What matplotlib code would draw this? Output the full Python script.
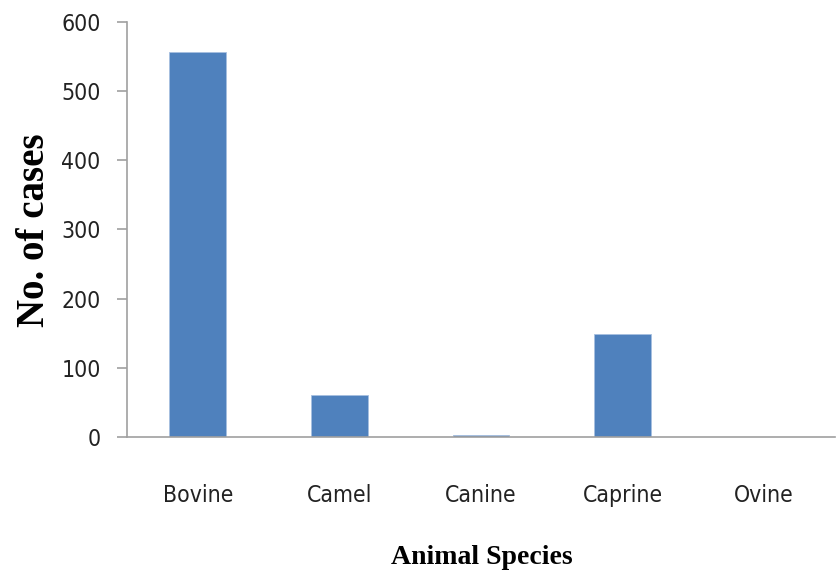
import matplotlib
matplotlib.use("Agg")
import matplotlib.pyplot as plt
from matplotlib import font_manager as fm

categories = ["Bovine", "Camel", "Canine", "Caprine", "Ovine"]
cases = [556, 61, 3, 149, 0]
yticks = [0, 100, 200, 300, 400, 500, 600]

names = {f.name for f in fm.fontManager.ttflist}
tick_family = "Liberation Sans Narrow" if "Liberation Sans Narrow" in names else "DejaVu Sans"

W, H = 837, 578
fig = plt.figure(figsize=(W / 100, H / 100), dpi=100)
ax = fig.add_axes([127 / W, 1 - 437 / H, 708 / W, 415 / H])

x = range(len(categories))
ax.bar(x, cases, width=0.4, color="#4F81BD", edgecolor="#A7C0E0", linewidth=0.6)

ax.set_xlim(-0.5, len(categories) - 0.5)
ax.set_ylim(0, 600)
ax.set_yticks(yticks)
ax.set_xticks(list(x))
ax.set_xticklabels(categories)

for s in ["top", "right"]:
    ax.spines[s].set_visible(False)
for s in ["left", "bottom"]:
    ax.spines[s].set_color("#A0A0A0")
    ax.spines[s].set_linewidth(1.2)

ax.tick_params(axis="y", length=7, width=1.2, color="#A0A0A0", pad=12)
ax.tick_params(axis="x", length=0, pad=34)
for lab in ax.get_yticklabels() + ax.get_xticklabels():
    lab.set_fontfamily(tick_family)
    lab.set_fontstretch("condensed")
    lab.set_fontsize(16.5)
    lab.set_color("#222222")

fig.text(35 / W, 1 - 230 / H, "No. of cases", rotation=90, ha="center", va="center",
         fontfamily="Liberation Serif", fontweight="bold", fontsize=28)
fig.text(482 / W, 1 - 558 / H, "Animal Species", ha="center", va="center",
         fontfamily="Liberation Serif", fontweight="bold", fontsize=20)

fig.savefig("out.png", dpi=100)
